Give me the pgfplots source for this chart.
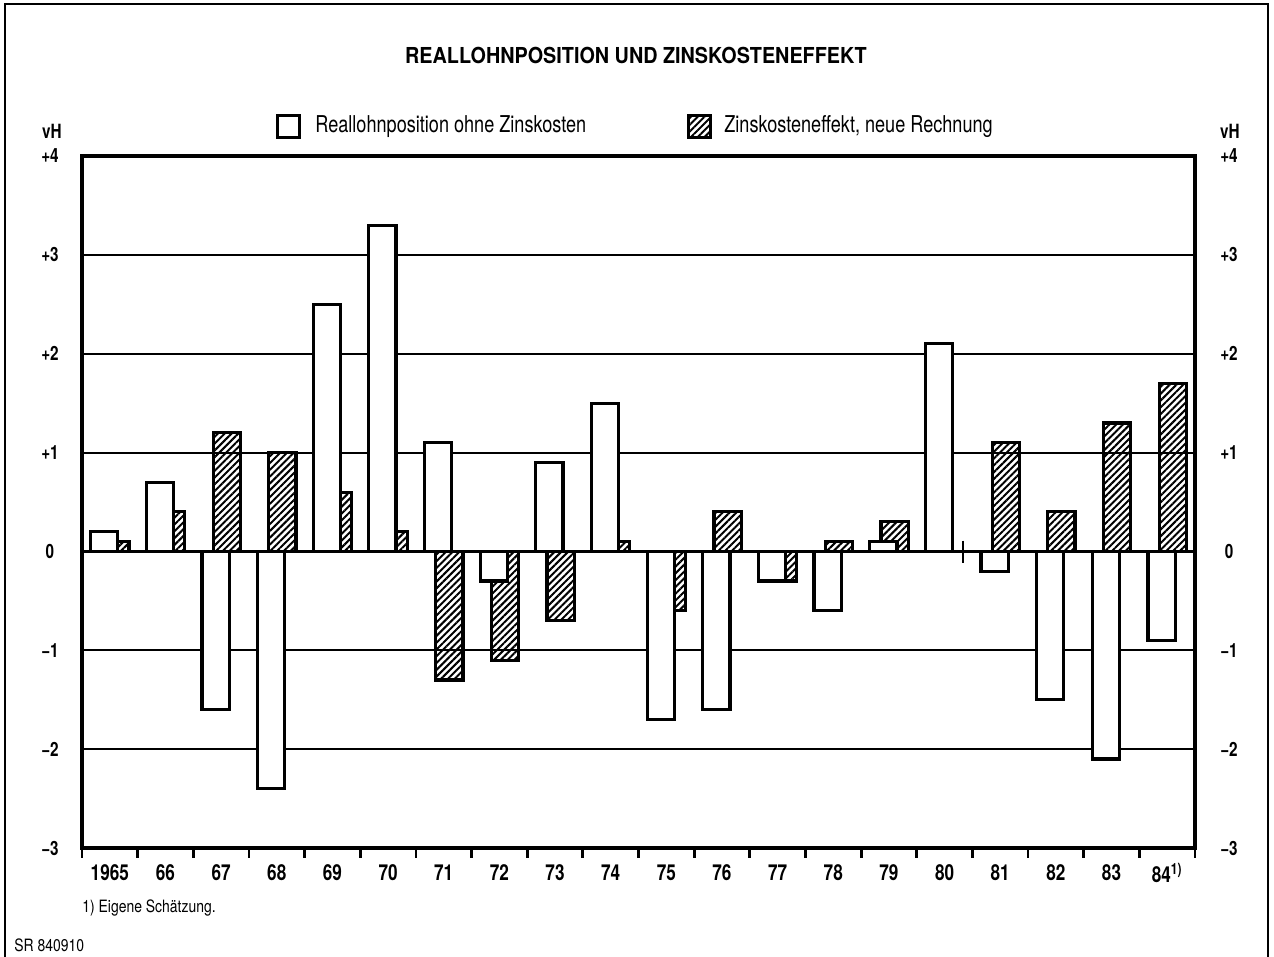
\documentclass[border=0pt]{standalone}
\usepackage{pgfplots}
\pgfplotsset{compat=1.18}
\usepackage{pgfplotstable}
\usetikzlibrary{patterns.meta}
\usepackage{fontspec}
\setmainfont{TeX Gyre Heros}[FakeStretch=0.82]
\newfontfamily\titlefont{TeX Gyre Heros}[FakeStretch=0.9]
\newfontfamily\tickfont{TeX Gyre Heros}[FakeStretch=0.78]
\newfontfamily\legfont{TeX Gyre Heros}[FakeStretch=0.78]

\pgfplotstableread{
x w h
0 0.2 0.1
1 0.7 0.4
2 -1.6 1.2
3 -2.4 1.0
4 2.5 0.6
5 3.3 0.2
6 1.1 -1.3
7 -0.3 -1.1
8 0.9 -0.7
9 1.5 0.1
10 -1.7 -0.6
11 -1.6 0.4
12 -0.3 -0.3
13 -0.6 0.1
14 0.1 0.3
15 2.1 0
16 -0.2 1.1
17 -1.5 0.4
18 -2.1 1.3
19 -0.9 1.7
}\data

\tikzset{hatch/.style={pattern={Lines[angle=45,distance=2.4pt,line width=1pt]}}}

\begin{document}
\begin{tikzpicture}
\useasboundingbox (-41pt,-54.5pt) rectangle (596pt,424pt);
\begin{axis}[at={(0,0)}, anchor=south west, scale only axis,
  width=556.5pt, height=346pt,
  xmin=-0.5, xmax=19.5, ymin=-3, ymax=4,
  xtick={0,...,19},
  xticklabels={1965,66,67,68,69,70,71,72,73,74,75,76,77,78,79,80,81,82,83,{84\textsuperscript{1)}}},
  minor xtick={-0.5,0.5,...,19.5},
  xtick pos=bottom,
  major x tick style={draw=none},
  minor x tick style={line width=1.4pt, black},
  minor tick length=5pt, tick align=outside,
  ytick={-3,...,4},
  yticklabels={−3,−2,−1,0,+1,+2,+3,+4},
  ytick style={draw=none}, major tick length=0pt,
  ymajorgrids, grid style={line width=1pt, black},
  extra y ticks={0}, extra y tick labels={},
  extra y tick style={grid=major, major grid style={line width=1.7pt, black}},
  axis line style={line width=1.7pt},
  xticklabel style={font=\tickfont\bfseries\fontsize{11}{12}\selectfont, anchor=center, yshift=-12.5pt},
  yticklabel style={font=\tickfont\bfseries\fontsize{9.8}{10}\selectfont, anchor=center, xshift=-16pt},
]
\addplot[ybar, bar width=13.6pt, bar shift=2.8pt, draw=black, line width=1.6pt, hatch] table[x=x,y=h]{\data};
\addplot[ybar, bar width=13.6pt, bar shift=-2.8pt, draw=black, line width=1.6pt, fill=white] table[x=x,y=w]{\data};
\addplot[no marks, black, line width=1.4pt] coordinates {(15.33,0.11) (15.33,-0.12)};
\end{axis}
\begin{axis}[at={(0,0)}, anchor=south west, scale only axis,
  width=556.5pt, height=346pt,
  xmin=-0.5, xmax=19.5, ymin=-3, ymax=4,
  hide x axis, axis y line*=right, y axis line style={draw=none},
  ytick={-3,...,4},
  yticklabels={−3,−2,−1,0,+1,+2,+3,+4},
  ytick style={draw=none}, major tick length=0pt,
  yticklabel style={font=\tickfont\bfseries\fontsize{9.8}{10}\selectfont, anchor=center, xshift=17pt},
]
\addplot[draw=none] coordinates {(0,0)};
\end{axis}
% frame
\draw[line width=1.2pt] (-38.5pt,-54.5pt) -- (-38.5pt,422pt) -- (593pt,422pt) -- (593pt,-54.5pt);
% title
\node[font=\titlefont\bfseries\fontsize{11}{12}\selectfont] at (277pt,396.5pt) {REALLOHNPOSITION UND ZINSKOSTENEFFEKT};
% legend
\draw[line width=1.5pt, fill=white] (97.5pt,355pt) rectangle (108.5pt,366pt);
\node[anchor=west, inner sep=0pt, font=\legfont\fontsize{11.6}{12}\selectfont] at (116.5pt,360.5pt) {Reallohnposition ohne Zinskosten};
\draw[line width=1.5pt, hatch] (303pt,355pt) rectangle (314pt,366pt);
\node[anchor=west, inner sep=0pt, font=\legfont\fontsize{11.6}{12}\selectfont] at (321pt,360.5pt) {Zinskosteneffekt, neue Rechnung};
% units
\node[font=\tickfont\bfseries\fontsize{9.8}{10}\selectfont] at (-15pt,358.5pt) {vH};
\node[font=\tickfont\bfseries\fontsize{9.8}{10}\selectfont] at (574pt,358.5pt) {vH};
% footnotes
\node[anchor=west, inner sep=0pt, font=\fontsize{8.5}{10}\selectfont] at (0pt,-30pt) {1) Eigene Schätzung.};
\node[anchor=west, inner sep=0pt, font=\fontsize{8.5}{10}\selectfont] at (-34pt,-48.5pt) {SR 840910};
\end{tikzpicture}
\end{document}
